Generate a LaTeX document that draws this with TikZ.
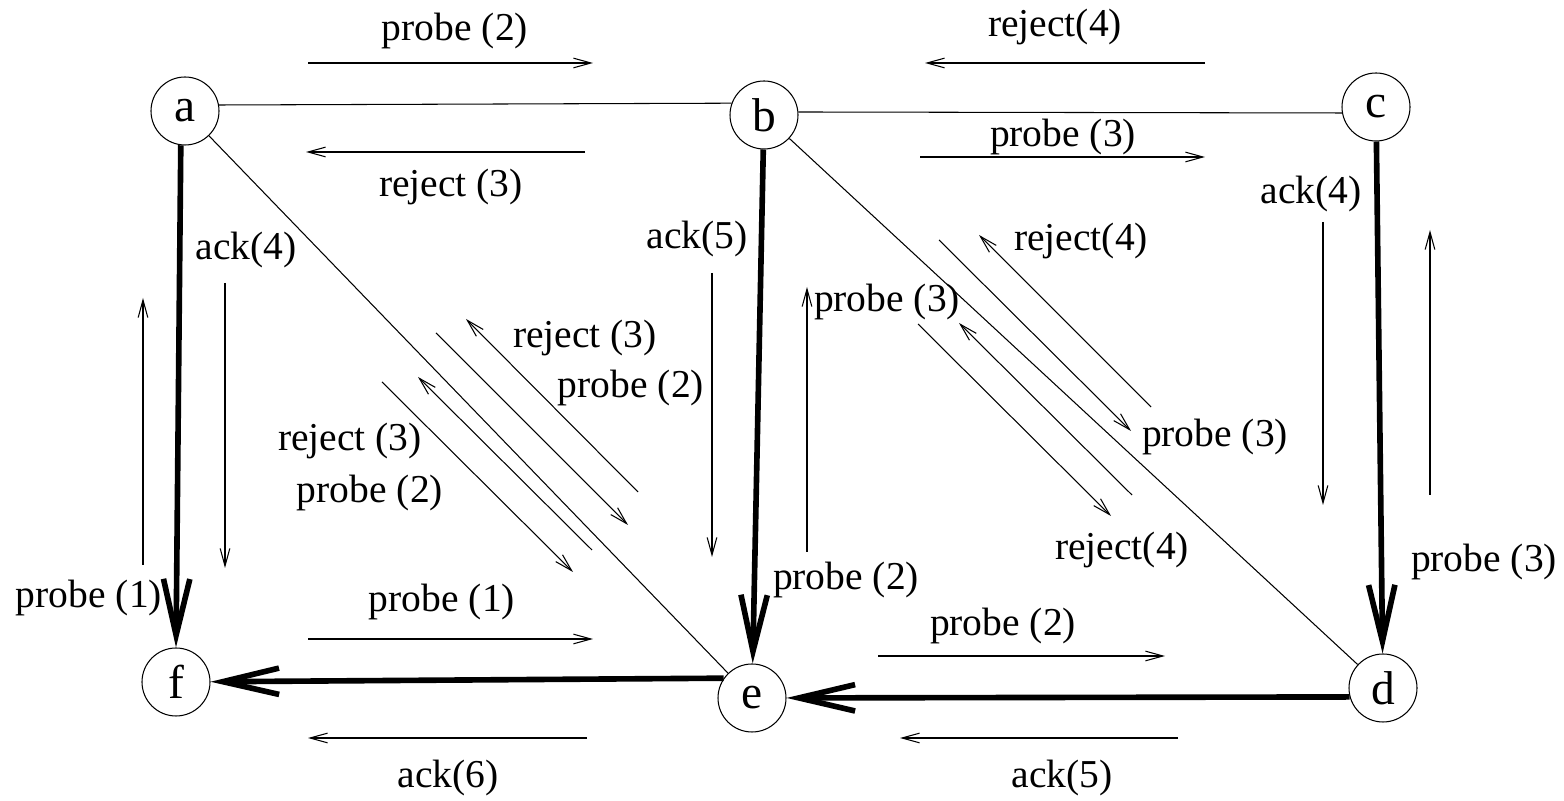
\documentclass[tikz,border=0pt]{standalone}
\usepackage{fontspec}
\setmainfont{Liberation Serif}
\usetikzlibrary{arrows.meta}
\newcommand{\proc}[3]{%
  \node[circle, draw, line width=0.6pt, minimum size=13.6mm,
        inner sep=0pt, font=\fontsize{27}{30}\selectfont] (#1) at #2 {#3};
}
\newcommand{\msg}[3]{%
  \coordinate (#1s) at #2;
  \coordinate (#1t) at #3;
  \draw[msgline] (#1s) -- (#1t);
}

\begin{document}
\begin{tikzpicture}[line width=0.6pt, font=\fontsize{22.5}{27}\selectfont,
          msgline/.style={-{Straight Barb[length=10pt, width=5.5pt]}, line width=0.6pt},
          tree/.style={-{Straight Barb[length=32pt, width=15pt]}, line width=3.2pt},
          lbl/.style={inner sep=0pt}]
        \useasboundingbox (0,0) rectangle (31.28,16.02);
        \proc{a}{(3.70,13.80)}{a}
        \proc{b}{(15.28,13.72)}{b}
        \proc{c}{(27.52,13.88)}{c}
        \proc{d}{(27.66,2.26)}{d}
        \proc{e}{(15.04,2.06)}{e}
        \proc{f}{(3.52,2.38)}{f}
        % graph edges
        \draw (a.10) -- (b.160);
        \draw (b.5) -- (c.190);
        \draw (a) -- (e);
        \draw (b) -- (d);
        % spanning tree
        \draw[tree] (a.263) -- (f.north);
        \draw[tree] (b) -- (e);
        \draw[tree] (c) -- (d);
        \draw[tree] (d.195) -- (e);
        \draw[tree] (e.145) -- (f);
        % messages
        \msg{m1}{(6.16,14.76)}{(11.86,14.76)}
        \msg{m2}{(11.70,12.98)}{(6.12,12.98)}
        \msg{m3}{(24.10,14.76)}{(18.50,14.76)}
        \msg{m4}{(18.40,12.88)}{(24.10,12.88)}
        \msg{m5}{(4.50,10.36)}{(4.50,4.66)}
        \msg{m6}{(2.86,4.72)}{(2.86,10.06)}
        \msg{m7}{(14.24,10.56)}{(14.24,4.88)}
        \msg{m8}{(16.14,4.98)}{(16.14,10.28)}
        \msg{m9}{(26.46,11.58)}{(26.46,5.92)}
        \msg{m10}{(28.60,6.12)}{(28.60,11.42)}
        \msg{m11}{(6.16,3.24)}{(11.86,3.24)}
        \msg{m12}{(11.74,1.26)}{(6.16,1.26)}
        \msg{m13}{(17.56,2.90)}{(23.30,2.90)}
        \msg{m14}{(23.56,1.26)}{(18.00,1.26)}
        \msg{m15}{(12.76,6.18)}{(9.32,9.64)}
        \msg{m16}{(8.72,9.36)}{(12.56,5.52)}
        \msg{m17}{(11.84,5.02)}{(8.36,8.48)}
        \msg{m18}{(7.64,8.38)}{(11.46,4.58)}
        \msg{m19}{(23.02,7.88)}{(19.58,11.32)}
        \msg{m20}{(18.78,11.22)}{(22.62,7.40)}
        \msg{m21}{(22.64,6.12)}{(19.18,9.56)}
        \msg{m22}{(18.36,9.54)}{(22.22,5.70)}
        % labels
        \node[lbl] (l1) at (9.10,15.40) {probe (2)};
        \node[lbl] (l2) at (9.02,12.28) {reject (3)};
        \node[lbl] (l3) at (21.10,15.48) {reject(4)};
        \node[lbl] (l4) at (21.26,13.28) {probe (3)};
        \node[lbl] (l5) at (4.92,11.02) {ack(4)};
        \node[lbl] (l6) at (1.78,4.06) {probe (1)};
        \node[lbl] (l7) at (13.94,11.24) {ack(5)};
        \node[lbl] (l8) at (16.92,4.42) {probe (2)};
        \node[lbl] (l9) at (26.22,12.14) {ack(4)};
        \node[lbl] (l10) at (29.68,4.78) {probe (3)};
        \node[lbl] (l11) at (8.84,3.98) {probe (1)};
        \node[lbl] (l12) at (8.96,0.46) {ack(6)};
        \node[lbl] (l13) at (20.06,3.50) {probe (2)};
        \node[lbl] (l14) at (21.24,0.46) {ack(5)};
        \node[lbl] (l15) at (11.70,9.26) {reject (3)};
        \node[lbl] (l16) at (12.62,8.26) {probe (2)};
        \node[lbl] (l17) at (7.00,7.20) {reject (3)};
        \node[lbl] (l18) at (7.40,6.16) {probe (2)};
        \node[lbl] (l19) at (17.74,9.98) {probe (3)};
        \node[lbl] (l20) at (21.62,11.20) {reject(4)};
        \node[lbl] (l21) at (24.30,7.28) {probe (3)};
        \node[lbl] (l22) at (22.44,5.02) {reject(4)};
      \end{tikzpicture}
\end{document}
